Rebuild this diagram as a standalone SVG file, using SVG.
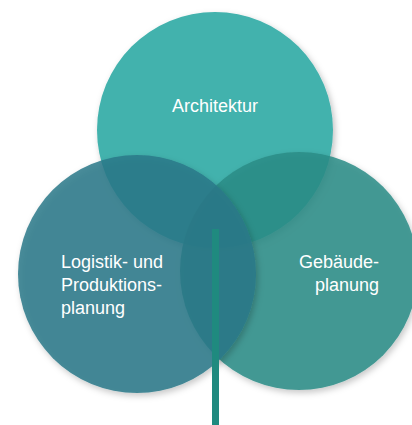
<svg xmlns="http://www.w3.org/2000/svg" width="412" height="425" viewBox="0 0 412 425">
  <defs>
    <filter id="shadow" x="-20%" y="-20%" width="140%" height="140%">
      <feDropShadow dx="2" dy="3" stdDeviation="3" flood-color="#000" flood-opacity="0.25"/>
    </filter>
  </defs>
  <style>
    .lbl { font-family: "Liberation Sans", Arial, sans-serif; font-size: 18px; fill: #ffffff; }
    .circ { filter: url(#shadow); }
  </style>
  <rect width="412" height="425" fill="#ffffff"/>
  <g id="architektur">
    <circle class="circ" cx="215" cy="130" r="118" fill="#43B2AD"/>
    <text class="lbl" x="215" y="112" text-anchor="middle">Architektur</text>
  </g>
  <g id="gebaeudeplanung">
    <circle class="circ" cx="299" cy="271" r="119" fill="#2C8C86" fill-opacity="0.85"/>
  </g>
  <g id="logistik">
    <circle class="circ" cx="137" cy="274" r="119" fill="#2A7888" fill-opacity="0.85"/>
  </g>
  <g id="labels">
    <text class="lbl" x="379" y="268" text-anchor="end">Gebäude-</text>
    <text class="lbl" x="379" y="291" text-anchor="end">planung</text>
    <text class="lbl" x="61" y="268">Logistik- und</text>
    <text class="lbl" x="61" y="291">Produktions-</text>
    <text class="lbl" x="61" y="314">planung</text>
  </g>
  <g id="connectors">
    <line x1="215.5" y1="229" x2="215.5" y2="425" stroke="#1F8A7F" stroke-width="7"/>
  </g>
</svg>
